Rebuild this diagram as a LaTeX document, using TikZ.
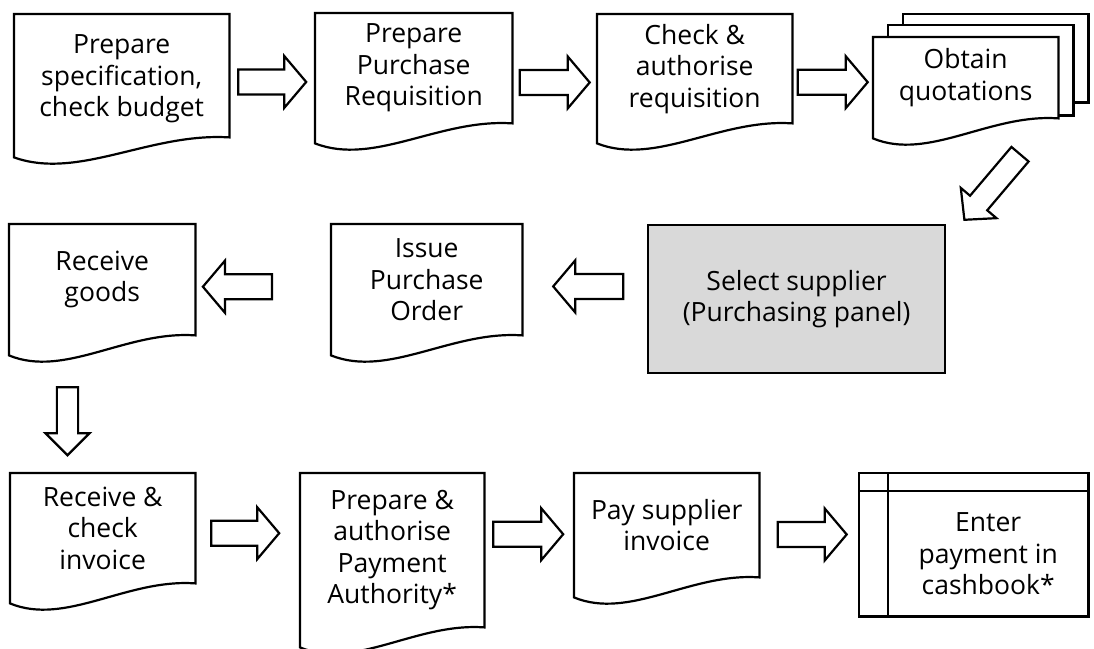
\documentclass[tikz,border=0pt]{standalone}
\usepackage{fontspec}
\setmainfont{Open Sans}
\usetikzlibrary{calc,backgrounds}
\definecolor{panelgray}{HTML}{D9D9D9}
\tikzset{
  docbox/.style={
    rectangle, anchor=north west, inner sep=0pt, align=center,
    font=\fontsize{26.5}{31.5}\selectfont, minimum width=#1
  },
  docbox/.default=185pt,
  outline/.style={
    draw=black, line width=2.2pt, line join=miter, fill=#1
  },
  outline/.default=white,
  arrowline/.style={
    draw=black, line width=2.2pt, line join=miter, fill=white
  },
}
% block arrow: [options]{centre}{angle}{length}
\newcommand{\blockarrow}[4][]{%
  \begin{scope}[shift={#2}, rotate=#3, #1]
    \draw[arrowline] ({-#4/2},-12.5) -- ({#4/2-22},-12.5) -- ({#4/2-22},-26)
      -- ({#4/2},0) -- ({#4/2-22},26) -- ({#4/2-22},12.5) -- ({-#4/2},12.5) -- cycle;
  \end{scope}}
% document outline round a named node
\newcommand{\docoutline}[1]{%
  \draw[outline] (#1.north west) -- (#1.north east) -- (#1.south east)
    .. controls ($(#1.south east)!0.37!(#1.south west)+(0,-5)$)
           and ($(#1.south east)!0.70!(#1.south west)+(0,43)$) ..
    ($(#1.south west)+(0,20)$) -- cycle;}

\begin{document}
\begin{tikzpicture}[x=1pt, y=-1pt]
  \useasboundingbox (0,0) rectangle (1094,648);
  % Top row
  \node[docbox=215pt, minimum height=123pt, text depth=-3pt] (spec) at (14,14) {Prepare\\specification,\\check budget};
  \node[docbox=197pt, minimum height=110pt] (req) at (315,13) {Prepare\\Purchase\\Requisition};
  \node[docbox=195pt, minimum height=109pt] (auth) at (597,14) {Check \&\\authorise\\requisition};
  \node[docbox=185pt, minimum height=81pt] (quote) at (873,37) {Obtain\\quotations};
  \blockarrow{($(spec.east)!.5!(req.west)+(0,10)$)}{0}{68}
  \blockarrow{($(req.east)!.5!(auth.west)+(0,14)$)}{0}{70}
  \blockarrow{($(auth.east)!.5!(quote.west)+(0,9)$)}{0}{70}
  % Middle row
  \node[docbox=297pt, minimum height=148pt, outline=panelgray] (sel) at (647,224) {Select supplier\\(Purchasing panel)};
  \node[docbox=191pt, minimum height=111pt] (po) at (331,224) {Issue\\Purchase\\Order};
  \node[docbox=186pt, minimum height=111pt] (goods) at (9,224) {Receive\\goods};
  \blockarrow[yscale=0.9]{($(sel.north east)+(46,-37)$)}{229.7}{86}
  \blockarrow{($(po.east)!.5!(sel.west)+(3.5,-3)$)}{180}{70}
  \blockarrow{($(goods.east)+(42,7)$)}{180}{69}
  % Bottom row
  \node[docbox=185pt, minimum height=110pt] (check) at (10,473) {Receive \&\\check\\invoice};
  \node[docbox=184pt, minimum height=154pt] (payauth) at (300,473) {Prepare \&\\authorise\\Payment\\Authority*};
  \node[docbox=185pt, minimum height=104pt] (pay) at (574,473) {Pay supplier\\invoice};
  \node[docbox=200pt, minimum height=125pt] (cash) at (888,491) {Enter\\payment in\\cashbook*};
  \draw[outline=none] ([xshift=-29pt,yshift=18pt]cash.north west) rectangle (cash.south east);
  \draw[outline=none] ([xshift=-29pt]cash.north west) -- (cash.north east);
  \draw[outline=none] ([yshift=18pt]cash.north west) -- (cash.south west);
  \blockarrow[yscale=0.85]{($(goods.south west)!.5!(check.north west)+(58,17)$)}{-90}{68}
  \blockarrow{($(check.east)!.5!(payauth.west)+(-2.5,-6)$)}{0}{68}
  \blockarrow{($(payauth.east)!.5!(pay.west)+(-1,-3.5)$)}{0}{70}
  \blockarrow{($(pay.east)!.5!(cash.west)+(-11.5,-5)$)}{0}{69}
  \begin{scope}[on background layer]
    \draw[outline] ([xshift=30pt,yshift=23pt]quote.north west) rectangle ([xshift=30pt,yshift=16pt]quote.south east);
    \draw[outline] ([xshift=15pt,yshift=12pt]quote.north west) rectangle ([xshift=15pt,yshift=3pt]quote.south east);
    \foreach \n in {spec,req,auth,quote,goods,po,check,payauth,pay}
      \docoutline{\n};
  \end{scope}
\end{tikzpicture}
\end{document}
